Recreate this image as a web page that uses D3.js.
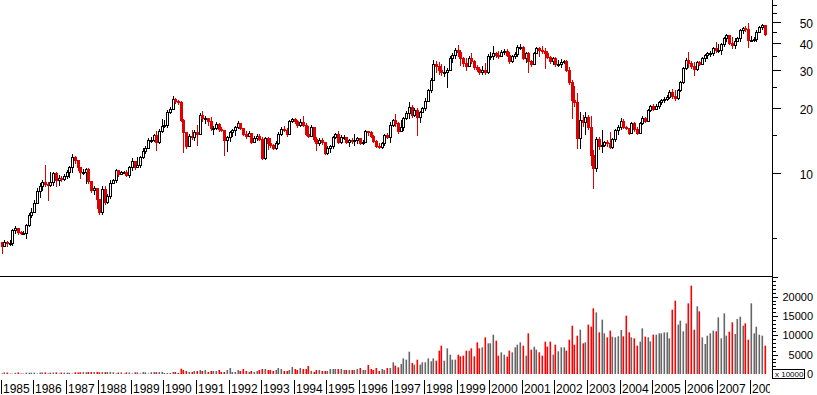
<!DOCTYPE html>
<html>
<head>
<meta charset="utf-8">
<script src="https://cdn.jsdelivr.net/npm/d3@7"></script>
<style>
body { margin: 0; background: #fff; }
svg { display: block; font-family: "Liberation Sans", Arial, sans-serif; }
</style>
</head>
<body>
<div id="chart"></div>
<script>
// monthly bars, Jan 1985 .. mid 2008
var firstOpen = 4.81;

var closes = [4.61,4.81,4.76,4.76,5.46,5.59,5.35,5.29,5.29,5.77,
6.41,6.62,7.29,8.28,8.74,9.12,8.92,8.83,9.12,10.04,
9.31,9.51,9.41,9.72,10.14,10.70,11.90,11.52,10.70,10.14,
10.14,10.47,9.21,8.37,8.55,7.61,6.62,8.46,7.37,7.85,
9.02,9.31,10.36,9.93,10.14,10.14,9.82,10.70,11.40,10.70,
10.93,11.90,12.69,13.10,14.26,14.26,15.04,13.96,15.70,16.56,
16.74,19.23,19.85,22.08,21.62,21.39,17.65,15.53,13.38,14.88,
14.73,15.53,15.21,18.62,18.04,18.04,17.47,16.21,16.21,16.92,
16.04,15.87,14.26,14.73,15.53,15.87,16.38,17.10,16.21,15.21,
14.88,15.37,13.96,14.57,14.88,14.42,11.77,14.57,13.81,13.52,
13.10,13.81,15.21,16.04,15.87,15.21,17.47,17.84,17.47,16.74,
17.28,16.74,15.21,14.88,16.38,14.42,13.81,14.26,13.96,12.42,
13.10,13.38,14.73,15.21,13.96,14.73,14.73,13.96,14.26,14.11,
14.26,14.57,13.81,13.96,15.70,15.53,14.88,14.11,13.38,13.24,
13.81,15.04,14.73,16.74,17.65,17.10,15.70,16.38,18.04,19.02,
20.28,18.62,19.64,18.23,19.23,20.06,21.62,24.30,27.04,32.07,
31.39,30.08,29.45,29.45,30.08,34.18,35.29,37.22,36.44,34.18,
32.41,31.39,34.18,33.11,31.06,30.40,29.45,30.08,29.45,34.92,
34.92,36.05,35.29,34.92,36.44,36.83,35.29,33.11,34.92,35.67,
38.44,38.44,34.18,36.05,33.11,32.07,36.05,38.03,37.22,36.83,
36.05,34.55,33.11,34.18,32.07,32.07,32.76,33.11,30.08,26.47,
21.85,21.39,14.57,17.65,17.28,18.23,16.38,12.16,10.58,14.42,
13.38,13.52,13.96,13.81,13.24,14.42,15.87,16.38,17.47,16.38,
16.21,15.37,17.10,16.04,15.37,17.10,18.04,17.47,19.64,20.50,
19.85,20.50,21.39,21.85,22.08,22.56,23.79,22.80,22.32,24.30,
26.47,30.73,33.46,32.41,31.39,30.40,32.76,32.07,34.18,35.29,
36.05,36.05,38.03,37.22,37.22,39.68,42.31,43.68,40.11,39.26,
40.97,42.31,46.07,47.07,46.57,41.41,41.41,41.86,45.10,47.57,
48.59,44.15];

var highs = [4.81,4.91,4.86,4.91,5.53,5.71,5.59,5.41,5.41,5.83,
6.55,6.91,7.52,8.55,9.02,9.31,10.93,9.12,10.14,10.14,
10.14,9.82,9.72,9.93,10.36,10.81,12.29,12.03,11.52,10.58,
10.47,10.58,10.58,9.12,8.74,8.20,7.52,8.74,8.74,8.02,
9.31,9.41,10.47,10.25,10.25,10.25,10.36,10.81,11.77,11.28,
11.90,12.03,13.10,13.38,14.57,14.73,15.21,15.70,16.04,17.84,
17.65,19.64,20.28,22.80,22.32,21.85,21.62,17.84,15.37,15.21,
15.87,15.87,16.74,19.02,19.43,18.43,18.04,18.23,16.56,17.28,
17.10,16.38,15.87,14.88,15.70,16.04,16.56,17.47,17.10,16.21,
15.70,15.70,15.37,14.88,15.21,15.21,14.73,14.73,14.73,14.57,
13.67,14.11,15.53,16.38,16.56,16.21,17.65,18.04,18.04,17.65,
17.84,18.43,17.10,16.56,16.74,16.38,14.73,14.57,14.57,13.96,
13.38,13.52,14.88,15.37,15.70,15.04,15.04,14.73,14.42,14.57,
15.21,14.73,14.57,14.26,15.87,15.70,15.70,15.04,14.26,13.81,
13.96,15.21,15.37,17.28,17.84,18.82,17.28,17.65,18.23,19.43,
21.39,20.72,20.06,20.06,19.43,20.28,22.32,24.57,27.62,33.46,
33.11,32.76,32.07,31.39,30.73,34.92,36.05,38.03,39.26,37.22,
34.55,34.18,34.92,36.05,33.46,31.73,31.06,31.39,32.41,35.67,
36.44,38.85,36.44,36.83,37.22,37.62,37.62,36.44,35.29,36.44,
39.26,39.68,38.85,36.44,36.44,33.46,36.44,38.44,38.44,38.85,
38.03,36.83,34.92,34.55,34.55,33.46,33.82,33.46,33.46,31.06,
27.04,25.37,23.54,19.23,18.62,19.23,18.62,18.43,12.82,14.73,
14.73,15.87,14.11,14.26,15.53,14.57,16.04,16.74,18.04,17.84,
16.56,16.21,17.28,17.28,16.38,17.28,18.43,18.23,19.85,20.72,
20.94,20.94,21.62,22.08,22.56,23.04,24.30,24.57,24.30,24.57,
26.75,31.06,34.18,36.44,33.11,32.76,33.11,33.11,34.55,35.67,
36.44,36.83,38.44,40.54,39.68,40.11,42.76,44.15,43.22,42.76,
42.31,42.76,46.57,47.57,48.08,49.64,43.22,42.76,46.07,48.08,
49.11,48.08];

var lows = [4.28,4.61,4.61,4.66,4.66,5.29,5.24,5.24,5.24,5.02,
5.71,6.28,6.76,7.37,7.77,8.37,8.74,7.52,8.74,8.83,
8.74,8.83,9.21,9.31,9.51,9.62,10.14,11.16,10.36,9.51,
9.93,9.02,9.02,8.20,8.02,6.91,6.48,6.48,7.21,7.29,
7.69,9.02,9.12,9.72,9.93,10.04,9.72,9.62,10.36,10.47,
10.70,10.70,11.77,12.42,13.38,13.96,14.11,12.82,13.81,15.53,
16.38,16.38,19.02,20.06,21.16,20.94,17.47,12.55,13.10,13.52,
14.42,14.26,13.52,15.37,17.47,17.10,16.74,15.87,15.21,16.04,
15.70,15.70,12.16,12.69,14.11,14.88,15.04,16.21,16.04,15.04,
14.57,15.04,13.81,13.96,14.26,14.26,11.65,11.65,12.96,13.24,
12.96,12.96,13.67,15.04,15.70,14.88,15.70,17.28,17.10,16.38,
16.56,16.56,15.04,14.73,15.87,14.11,12.82,13.52,13.67,12.29,
12.29,12.55,13.10,14.57,13.81,13.81,14.42,13.81,13.38,13.81,
13.52,13.81,13.67,13.67,13.96,15.04,14.73,13.96,13.24,13.10,
13.10,13.52,14.57,13.96,16.56,16.56,15.37,15.70,15.87,17.84,
18.04,18.23,18.43,15.04,17.28,19.23,19.64,21.85,23.79,27.04,
29.45,28.83,28.52,28.22,25.10,30.08,32.76,34.18,34.92,31.73,
31.39,30.08,31.39,32.41,30.40,29.76,28.83,28.83,28.83,29.13,
33.82,33.82,34.55,34.18,35.29,35.67,34.92,32.41,32.76,34.18,
34.92,37.62,33.82,32.76,29.45,31.39,32.41,36.05,34.92,36.05,
30.73,34.18,32.41,32.07,31.39,31.39,31.06,32.41,29.76,25.91,
18.04,20.50,13.10,13.10,16.56,15.21,16.04,10.93,8.55,10.25,
12.96,12.55,13.38,13.38,13.10,13.10,14.11,15.21,16.04,16.21,
16.04,15.21,15.37,15.70,15.21,15.70,16.92,17.28,17.84,19.43,
19.64,20.06,20.06,20.94,21.39,21.85,22.32,22.32,21.85,22.08,
24.05,26.19,30.40,31.06,30.73,28.52,30.08,31.73,32.07,33.11,
34.18,34.92,35.29,36.44,36.44,35.67,38.85,40.97,39.68,38.03,
38.03,40.97,40.97,44.62,45.58,38.44,40.97,40.97,40.97,45.58,
46.57,43.68];

var volumes = [150,420,380,120,100,300,420,130,110,350,330,340,
360,120,380,400,420,130,350,380,420,120,380,360,
340,330,120,450,420,430,480,450,520,500,520,560,
450,520,480,520,560,440,130,380,430,120,440,400,
130,430,420,140,500,420,130,460,520,480,500,
520,260,260,260,520,520,260,1380,1030,780,
520,520,780,780,1030,780,1030,520,780,780,
780,1030,520,520,1030,1550,520,520,1030,780,
1290,780,520,780,520,780,1030,1290,1290,1030,
1030,780,1030,1550,1290,780,780,1030,1810,1290,
1030,1550,1290,1290,2070,780,520,1030,1030,780,
780,780,1290,1290,1290,1290,1290,1030,1030,1030,
1030,1030,1290,1550,1030,1030,2330,1290,1030,1550,
780,1290,1030,1550,1550,
3020,2160,1730,2590,4050,3710,5780,2850,2420,3710,
2420,3020,3020,4050,3280,4050,3450,6040,7330,3450,
6640,5000,3710,3710,5000,4570,4740,6040,6040,6640,
4570,8190,6640,6900,9490,7940,7940,10180,8630,4740,
5610,5000,4490,6040,5610,6900,7590,8190,7330,4740,
10520,6300,7070,6300,5610,4740,8370,7070,8370,5000,
7590,5870,6900,6900,6040,8880,12510,7590,9920,11470,
7940,8190,12770,12250,16990,15960,10780,14060,10520,9490,
11210,
9660,9490,9750,11390,9750,15090,10780,9490,9230,7330,
8370,11820,9660,9490,8450,10180,10180,10520,10520,10780,
10780,9230,16650,18980,12770,13800,11040,13110,18290,22860,
11470,17510,16220,9490,7760,9920,10520,11210,11040,14660,
9230,15700,9920,10950,13370,10350,14230,14840,12510,13110,
8880,18290,10520,12250,10180,9920,7330];

var yearLabels = ["1985","1986","1987","1988","1989","1990","1991","1992",
  "1993","1994","1995","1996","1997","1998","1999","2000","2001","2002",
  "2003","2004","2005","2006","2007","2008"];
var priceTicks = [5,10,15,20,25,30,35,40,45,50,55,60];
var priceLabels = [10,20,30,40,50];
var volumeLabels = [0,5000,10000,15000,20000];

var W = 817, H = 395, axisX = 772;
var red = "#e00000", volRed = "#ff0000", volGray = "#666666";

var svg = d3.select("#chart").append("svg")
  .attr("width", W).attr("height", H);

var x = d3.scaleLinear().domain([0, closes.length - 1]).range([1.5, 764.5]);
var y = d3.scaleLog().domain([3.346, 63.4]).range([276, 0]);
var yv = d3.scaleLinear().domain([0, 25000]).range([374, 277.4]);

var opens = [firstOpen].concat(closes.slice(0, -1));
var bars = closes.map(function(c, i) {
  return {i: i, o: opens[i], c: c, h: highs[i], l: lows[i], v: volumes[i], down: c < opens[i]};
});

// candles
var cg = svg.append("g").attr("shape-rendering", "crispEdges");
var candle = cg.selectAll("g").data(bars).enter().append("g");
candle.append("line")
  .attr("x1", function(d) { return Math.round(x(d.i)) + 0.5; })
  .attr("x2", function(d) { return Math.round(x(d.i)) + 0.5; })
  .attr("y1", function(d) { return Math.round(y(Math.max(d.h, d.o, d.c))); })
  .attr("y2", function(d) { return Math.round(y(Math.min(d.l, d.o, d.c))) + 1; })
  .style("stroke", function(d) { return d.down ? red : "#000"; });
candle.append("rect")
  .attr("x", function(d) { return Math.round(x(d.i)) - 0.5; })
  .attr("y", function(d) { return Math.round(y(Math.max(d.o, d.c))) + 0.5; })
  .attr("width", 2)
  .attr("height", function(d) {
    return Math.max(1, Math.round(y(Math.min(d.o, d.c))) - Math.round(y(Math.max(d.o, d.c))));
  })
  .style("fill", function(d) { return d.down ? red : "#fff"; })
  .style("stroke", function(d) { return d.down ? red : "#000"; });

// volume
svg.append("g").selectAll("rect").data(bars).enter().append("rect")
  .attr("x", function(d) { return Math.round(x(d.i)) - 0.5; })
  .attr("y", function(d) { return yv(d.v); })
  .attr("width", 1.6)
  .attr("height", function(d) { return 374 - yv(d.v); })
  .style("fill", function(d) { return d.down ? volRed : volGray; });

// frame lines
var fg = svg.append("g").attr("shape-rendering", "crispEdges").style("stroke", "#000");
fg.append("line").attr("x1", 0).attr("x2", axisX).attr("y1", 276.5).attr("y2", 276.5);
fg.append("line").attr("x1", axisX + 0.5).attr("x2", axisX + 0.5).attr("y1", 0).attr("y2", 370);

// price axis
fg.selectAll("line.pt").data(priceTicks).enter().append("line")
  .attr("class", "pt")
  .attr("x1", axisX + 1)
  .attr("x2", function(d) { return priceLabels.indexOf(d) >= 0 ? axisX + 9 : axisX + 5; })
  .attr("y1", function(d) { return Math.round(y(d)) + 0.5; })
  .attr("y2", function(d) { return Math.round(y(d)) + 0.5; });
svg.append("g").selectAll("text").data(priceLabels).enter().append("text")
  .attr("x", 813)
  .attr("y", function(d) { return Math.round(y(d)) + 6; })
  .attr("text-anchor", "end")
  .style("font-size", "12px")
  .text(function(d) { return d; });

// volume axis
fg.selectAll("line.vt").data(d3.range(1000, 26000, 1000)).enter().append("line")
  .attr("class", "vt")
  .attr("x1", axisX + 1)
  .attr("x2", function(d) { return d % 5000 === 0 ? axisX + 6 : axisX + 4; })
  .attr("y1", function(d) { return Math.round(yv(d)) + 0.5; })
  .attr("y2", function(d) { return Math.round(yv(d)) + 0.5; });
svg.append("g").selectAll("text").data(volumeLabels).enter().append("text")
  .attr("x", 813)
  .attr("y", function(d) { return Math.round(yv(d)) + 4; })
  .attr("text-anchor", "end")
  .style("font-size", "11px")
  .text(function(d) { return d; });

fg.append("rect").attr("x", axisX + 0.5).attr("y", 369.5).attr("width", 32).attr("height", 9)
  .style("fill", "#fff");
svg.append("text").attr("x", axisX + 3).attr("y", 377).style("font-size", "8px").text("x 10000");

// year axis
svg.append("clipPath").attr("id", "yr-clip").append("rect")
  .attr("x", 0).attr("y", 370).attr("width", axisX - 2).attr("height", 30);
var yg = svg.append("g").attr("clip-path", "url(#yr-clip)");
var yr = yg.selectAll("g").data(yearLabels).enter().append("g")
  .attr("transform", function(d, k) { return "translate(" + (Math.round(x(k * 12)) - 1) + ",0)"; });
yr.append("line")
  .attr("x1", 0.5).attr("x2", 0.5).attr("y1", 380).attr("y2", 394)
  .attr("shape-rendering", "crispEdges")
  .style("stroke", "#000");
yr.append("text").attr("x", 2).attr("y", 393)
  .style("font-size", "12px")
  .text(function(d) { return d; });
</script>
</body>
</html>
